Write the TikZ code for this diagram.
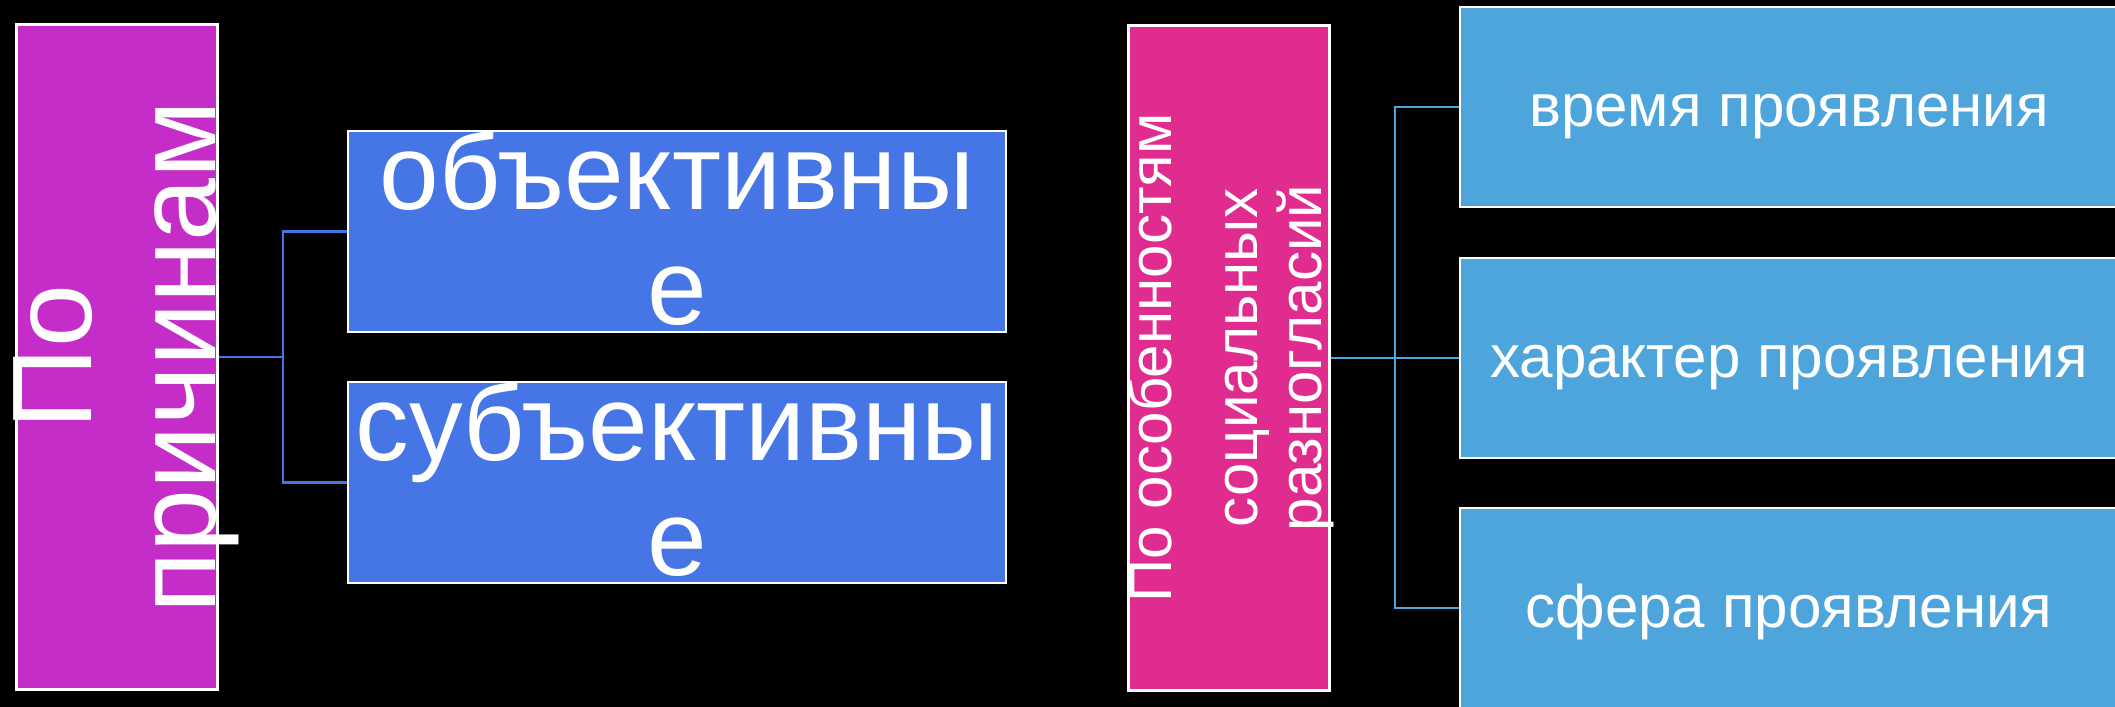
\documentclass[tikz,border=0pt]{standalone}
\usepackage{fontspec}
\setmainfont{Liberation Sans}
\usepackage{xcolor}
\usepackage{tikz}
\usetikzlibrary{positioning, calc}

\definecolor{causepurple}{RGB}{197,45,200}
\definecolor{causeblue}{RGB}{70,118,230}
\definecolor{featurepink}{RGB}{224,44,142}
\definecolor{featureblue}{RGB}{78,165,219}

\tikzset{
  mainbox/.style={rectangle, draw=white, line width=0.6pt, inner sep=0pt, minimum width=2.01cm, minimum height=6.65cm},
  causebox/.style={rectangle, draw=white, line width=0.6pt, fill=causeblue, inner sep=0pt, minimum width=6.58cm, minimum height=2.01cm, text height=1.93cm, text depth=0.06cm, align=center, text=white, font=\fontsize{30.5}{33}\selectfont},
  featurebox/.style={rectangle, draw=white, line width=0.6pt, fill=featureblue, inner sep=0pt, minimum width=6.58cm, minimum height=2.00cm, text height=14.8pt, text depth=3.6pt, text=white, font=\fontsize{17.1}{20.5}\selectfont},
  sidetext/.style={rotate=90, align=center, text=white, inner sep=0pt}
}

\begin{document}
\begin{tikzpicture}[>=stealth]
    \useasboundingbox (0,0) rectangle (21.15,7.07);
    \fill[black] (0,0) rectangle (21.15,7.07);

    % left part
    \node[mainbox, fill=causepurple] (causes) at (1.17, 3.50) {};
    \node[sidetext, font=\fontsize{32.2}{35.3}\selectfont] (causestext) at (1.26, 3.50) {По\\причинам};

    \node[causebox] (objective) at (6.77, 4.755) {объективны\\е};
    \node[causebox] (subjective) at (6.77, 2.245) {субъективны\\е};

    \coordinate (fork1) at (2.83, 3.50);
    \draw[causeblue, line width=0.6pt] (causes.east) -- (fork1) |- (objective.west);
    \draw[causeblue, line width=0.6pt] (fork1) |- (subjective.west);

    % right part
    \node[mainbox, fill=featurepink] (features) at (12.29, 3.49) {};
    \node[sidetext, font=\fontsize{17.1}{18.04}\selectfont] (featurestext) at (12.305, 3.49) {По особенностям\\[0.232cm]социальных\\разногласий};

    \node[featurebox] (time) at (17.89, 6.00) {время проявления};
    \node[featurebox] (nature) at (17.89, 3.49) {характер проявления};
    \node[featurebox] (sphere) at (17.89, 0.99) {сфера проявления};

    \coordinate (fork2) at (13.95, 3.49);
    \draw[featureblue, line width=0.6pt] (features.east) -- (fork2) |- (time.west);
    \draw[featureblue, line width=0.6pt] (fork2) -- (nature.west);
    \draw[featureblue, line width=0.6pt] (fork2) |- (sphere.west);

  \end{tikzpicture}
\end{document}
